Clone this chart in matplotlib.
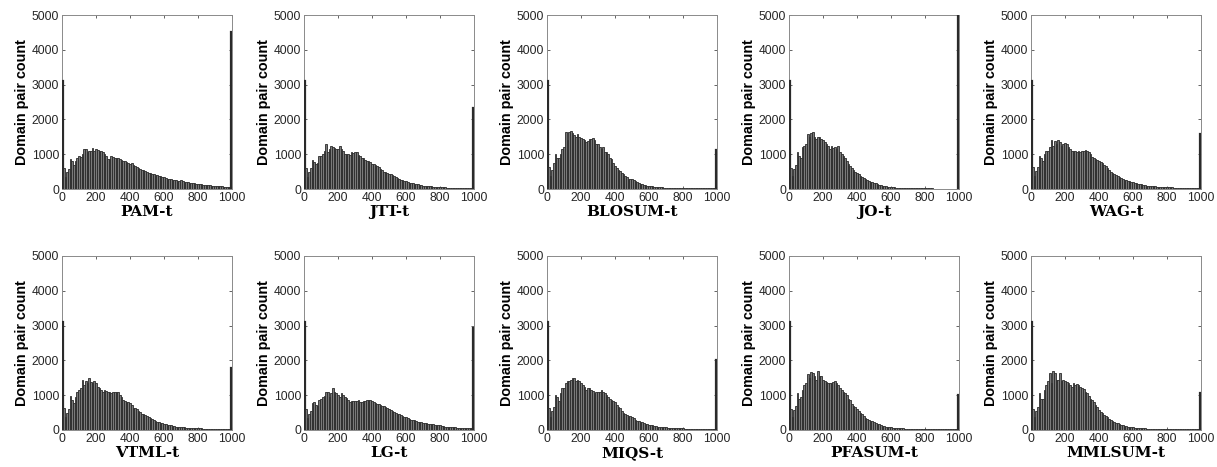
import numpy as np
import matplotlib
matplotlib.use("Agg")
import matplotlib.pyplot as plt

bin_centers = np.arange(0, 1001, 10)

titles = ["PAM-t", "JTT-t", "BLOSUM-t", "JO-t", "WAG-t",
          "VTML-t", "LG-t", "MIQS-t", "PFASUM-t", "MMLSUM-t"]

pam = [3100, 600, 350, 480, 580, 850, 800, 700, 800, 900,
       950, 920, 1000, 1150, 1150, 1050, 1080, 1100, 1170, 1100,
       1150, 1120, 1080, 1100, 1050, 1000, 960, 850, 860, 940,
       920, 900, 900, 880, 850, 820, 800, 800, 780, 760,
       720, 740, 700, 650, 620, 600, 580, 560, 550, 520,
       500, 470, 450, 430, 420, 400, 390, 380, 360, 350,
       340, 320, 300, 290, 280, 270, 260, 250, 240, 240,
       250, 230, 210, 200, 190, 180, 175, 170, 160, 150,
       150, 140, 130, 125, 120, 115, 110, 105, 100, 95,
       90, 85, 80, 75, 72, 70, 65, 60, 60, 55,
       4520]
jtt = [3100, 600, 350, 480, 600, 830, 780, 720, 760, 950,
       960, 1000, 1080, 1280, 1050, 1150, 1230, 1200, 1180, 1150,
       1150, 1250, 1150, 1100, 1000, 1000, 1020, 980, 1050, 1030,
       1060, 1050, 980, 950, 900, 880, 820, 800, 800, 770,
       720, 720, 680, 650, 620, 580, 540, 500, 490, 470,
       440, 420, 400, 370, 340, 320, 290, 270, 250, 230,
       220, 200, 180, 170, 160, 150, 140, 130, 120, 110,
       100, 95, 90, 85, 80, 75, 70, 65, 60, 55,
       50, 48, 46, 44, 42, 40, 38, 36, 35, 34,
       33, 32, 31, 30, 30, 30, 29, 28, 28, 27,
       2320]
blosum = [3100, 620, 380, 560, 750, 1000, 900, 900, 1000, 1150,
          1200, 1650, 1400, 1650, 1680, 1600, 1550, 1480, 1580, 1500,
          1470, 1450, 1400, 1350, 1380, 1450, 1450, 1470, 1400, 1300,
          1280, 1200, 1150, 1200, 1050, 1050, 1000, 900, 850, 750,
          650, 600, 560, 520, 470, 420, 380, 340, 300, 290,
          280, 250, 220, 200, 170, 150, 140, 120, 110, 100,
          90, 80, 75, 70, 60, 55, 50, 50, 45, 42,
          40, 38, 36, 34, 32, 30, 30, 28, 27, 26,
          25, 24, 23, 22, 22, 21, 20, 20, 19, 19,
          18, 18, 17, 17, 16, 16, 15, 15, 15, 15,
          1120]
jo = [3100, 600, 380, 580, 700, 1050, 950, 900, 1200, 1250,
      1300, 1580, 1500, 1600, 1650, 1500, 1450, 1500, 1500, 1450,
      1400, 1350, 1300, 1230, 1150, 1250, 1180, 1200, 1150, 1250,
      1050, 1000, 950, 880, 800, 720, 650, 600, 550, 500,
      450, 420, 380, 350, 320, 280, 250, 230, 200, 190,
      180, 160, 140, 120, 110, 100, 90, 80, 70, 60,
      55, 50, 46, 42, 40, 37, 34, 32, 30, 28,
      26, 25, 24, 23, 22, 21, 20, 19, 18, 18,
      17, 16, 16, 15, 15, 14, 14, 13, 13, 13,
      12, 12, 12, 11, 11, 11, 10, 10, 10, 10,
      6500]
wag = [3100, 620, 360, 520, 620, 950, 880, 800, 1000, 1100,
       1100, 1200, 1400, 1250, 1380, 1300, 1420, 1350, 1250, 1300,
       1330, 1300, 1200, 1150, 1100, 1100, 1080, 1050, 1080, 1050,
       1100, 1100, 1120, 1100, 1050, 1000, 920, 900, 870, 820,
       800, 780, 750, 700, 650, 600, 540, 500, 460, 430,
       400, 370, 350, 320, 300, 270, 250, 240, 230, 210,
       200, 180, 160, 150, 140, 130, 120, 110, 100, 95,
       90, 85, 80, 75, 70, 66, 62, 58, 55, 52,
       50, 48, 46, 44, 42, 40, 39, 38, 37, 36,
       35, 34, 33, 32, 31, 30, 30, 30, 30, 30,
       1580]
vtml = [3100, 620, 360, 500, 600, 980, 850, 780, 950, 1100,
        1150, 1200, 1430, 1300, 1400, 1350, 1500, 1380, 1350, 1400,
        1350, 1250, 1200, 1150, 1100, 1150, 1120, 1100, 1080, 1050,
        1100, 1100, 1100, 1080, 1000, 950, 850, 830, 800, 800,
        780, 720, 640, 620, 600, 560, 520, 460, 450, 420,
        410, 380, 350, 320, 290, 260, 240, 220, 200, 190,
        180, 170, 150, 140, 130, 120, 110, 100, 95, 90,
        85, 80, 75, 70, 66, 62, 58, 55, 52, 50,
        48, 46, 44, 42, 40, 38, 37, 36, 35, 34,
        33, 32, 31, 30, 30, 29, 28, 28, 27, 27,
        1790]
lg = [3100, 600, 350, 450, 550, 780, 800, 720, 700, 850,
      900, 950, 980, 1100, 1100, 950, 1050, 1220, 1100, 1050,
      1000, 950, 1050, 1000, 950, 920, 870, 800, 820, 830,
      820, 820, 850, 800, 800, 820, 830, 850, 870, 850,
      830, 800, 780, 750, 740, 730, 700, 700, 670, 630,
      600, 580, 550, 520, 500, 470, 450, 430, 400, 380,
      360, 350, 320, 300, 290, 280, 260, 240, 230, 220,
      210, 200, 190, 180, 170, 160, 160, 150, 150, 140,
      130, 120, 110, 100, 100, 90, 90, 85, 80, 75,
      70, 70, 65, 65, 62, 60, 60, 60, 58, 58,
      2920]
miqs = [3100, 620, 380, 560, 650, 1020, 950, 820, 1050, 1200,
        1200, 1350, 1400, 1400, 1450, 1480, 1500, 1400, 1450, 1400,
        1350, 1300, 1250, 1150, 1200, 1200, 1150, 1120, 1050, 1080,
        1100, 1080, 1150, 1100, 1050, 1000, 950, 900, 860, 840,
        800, 720, 650, 620, 560, 500, 460, 430, 410, 400,
        370, 340, 300, 270, 250, 230, 220, 200, 180, 160,
        150, 140, 130, 120, 110, 100, 95, 90, 85, 80,
        75, 70, 66, 62, 58, 55, 52, 50, 48, 46,
        44, 42, 40, 38, 37, 36, 35, 34, 33, 32,
        31, 30, 30, 29, 28, 28, 27, 27, 26, 26,
        2000]
pfasum = [3100, 600, 380, 580, 700, 1060, 900, 950, 1150, 1280,
          1350, 1600, 1500, 1680, 1650, 1550, 1450, 1700, 1550, 1550,
          1450, 1400, 1380, 1350, 1350, 1350, 1380, 1400, 1350, 1300,
          1200, 1150, 1100, 1050, 1000, 900, 850, 750, 700, 650,
          600, 550, 500, 450, 400, 350, 320, 300, 270, 250,
          220, 200, 180, 160, 140, 120, 110, 100, 90, 80,
          75, 70, 65, 60, 55, 50, 47, 44, 41, 38,
          36, 34, 32, 30, 29, 28, 27, 26, 25, 24,
          23, 22, 21, 21, 20, 20, 19, 19, 18, 18,
          17, 17, 16, 16, 16, 15, 15, 15, 15, 15,
          1020]
mmlsum = [3100, 600, 380, 550, 650, 1060, 900, 900, 1150, 1300,
          1400, 1650, 1350, 1700, 1650, 1450, 1450, 1650, 1400, 1450,
          1400, 1380, 1350, 1300, 1250, 1350, 1300, 1330, 1300, 1250,
          1200, 1180, 1100, 1050, 980, 900, 850, 800, 720, 650,
          580, 530, 480, 430, 400, 360, 320, 290, 260, 230,
          210, 190, 170, 150, 130, 120, 110, 100, 90, 80,
          75, 70, 65, 60, 55, 52, 49, 46, 43, 40,
          38, 36, 34, 32, 30, 29, 28, 27, 26, 25,
          24, 23, 22, 21, 21, 20, 20, 19, 19, 18,
          18, 17, 17, 16, 16, 16, 15, 15, 15, 15,
          1050]

series = [pam, jtt, blosum, jo, wag, vtml, lg, miqs, pfasum, mmlsum]

xticks = [0, 200, 400, 600, 800, 1000]
yticks = [0, 1000, 2000, 3000, 4000, 5000]

W, H = 1217, 467
fig = plt.figure(figsize=(W / 100, H / 100), dpi=100)

col_left = [62, 304, 547, 789, 1031]
row_top = [15, 256]
aw, ah = 170, 174

edge_lw = np.full(len(bin_centers), 0.6)
edge_lw[0] = edge_lw[-1] = 1.6

for i, (name, vals) in enumerate(zip(titles, series)):
    r, c = divmod(i, 5)
    ax = fig.add_axes([col_left[c] / W, 1 - (row_top[r] + ah) / H, aw / W, ah / H])
    ax.bar(bin_centers, vals, width=10, color="#7a7a7a", edgecolor="#2a2a2a",
           linewidth=edge_lw, zorder=3)
    ax.set_xlim(0, 1000)
    ax.set_ylim(0, 5000)
    ax.set_xticks(xticks)
    ax.set_yticks(yticks)
    ax.tick_params(direction="in", length=2.5, width=0.5, top=True, right=True,
                   labelsize=8.7, colors="#262626", pad=2)
    for s in ax.spines.values():
        s.set_color("#8a8a8a")
        s.set_linewidth(0.7)
        s.set_zorder(2)
    for lab in ax.get_xticklabels() + ax.get_yticklabels():
        lab.set_family("Liberation Sans")
    ax.set_ylabel("Domain pair count", family="Liberation Sans", fontweight="bold",
                  fontsize=10.4, labelpad=2)
    ax.set_xlabel(name, family="DejaVu Serif", fontweight="bold", fontsize=11,
                  labelpad=1)

fig.savefig("out.png", dpi=100)
